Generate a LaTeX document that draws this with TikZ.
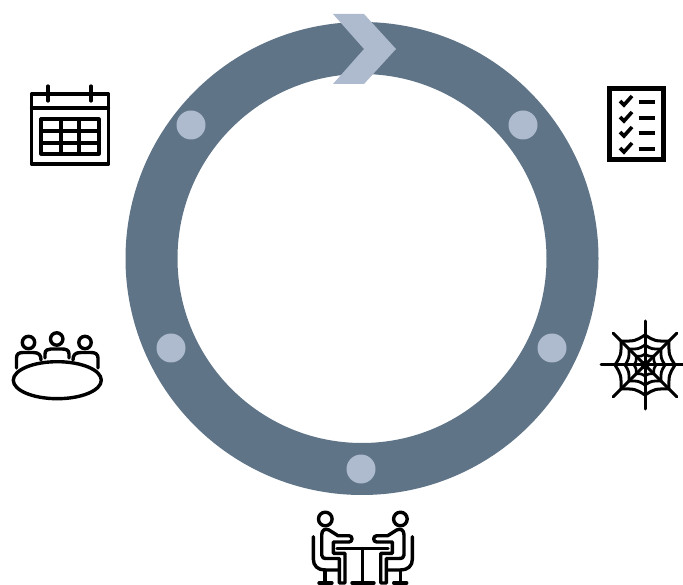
\documentclass[tikz,border=0pt]{standalone}
\definecolor{ringc}{HTML}{5F7487}
\definecolor{chevc}{HTML}{AEBACD}
\tikzset{
 ico/.style={draw=black,line width=3.2pt,line join=round,line cap=round},
 thinico/.style={draw=black,line width=3.4pt,line join=round,line cap=round},
 webl/.style={draw=black,line cap=round,line join=round},
 dotc/.style={fill=chevc,draw=none}
}
\newcommand{\seatedperson}{%
 \draw[thinico] (25.3,14) circle (6.8);
 % chair
 \draw[thinico] (13.3,31.7) -- (13.3,54) .. controls (13.3,61) and (18,65) .. (25,65) -- (39,65);
 \draw[thinico] (25,65) -- (25,78);
 \draw[thinico] (19,78) -- (32,78);
 % body
 \draw[thinico] (21.7,50) -- (21.7,30) .. controls (21.7,25) and (25,23) .. (29,25)
   -- (38,30.7) -- (49,30.7) .. controls (53,30.7) and (53,37) .. (49,37) -- (33.3,37) -- (33.3,48.3) -- (45,48.3)
   -- (45,78) -- (39.3,78) -- (39.3,53.5) -- (26.7,53.5) .. controls (23.5,53.5) and (21.7,52.5) .. (21.7,50) -- cycle;
}
\begin{document}
\begin{tikzpicture}[x=1pt,y=-1pt]
\useasboundingbox (0,0) rectangle (683,585);
% ring
\fill[ringc,even odd rule] (362,258.5) circle (236.5) (362,258.5) circle (184.5);
\fill[chevc] (333,14) -- (364,14) -- (396,49) -- (364,84) -- (333,84) -- (364,49) -- cycle;
\foreach \px/\py in {191/125,523/125,552/348,171/348,361/469}
  \fill[dotc] (\px,\py) circle (14.5);
% calendar
\draw[ico] (31.5,94) rectangle (108.5,164);
\draw[ico] (31.5,108) -- (108.5,108);
\draw[ico] (48,86) -- (48,101);
\draw[ico] (91,86) -- (91,101);
\draw[ico] (41,119) rectangle (99,154);
\draw[ico] (61,119) -- (61,154);
\draw[ico] (79,119) -- (79,154);
\draw[ico] (41,131) -- (99,131);
\draw[ico] (41,143) -- (99,143);
% checklist
\draw[draw=black,line width=5pt,miter limit=10] (609.5,88.5) rectangle (663.5,159.5);
\foreach \cy in {101,117,132,148}{
  \draw[draw=black,line width=3.6pt] (620,\cy) -- (624,\cy+4) -- (632,\cy-5);
  \draw[draw=black,line width=3.4pt] (638.5,\cy+1) -- (655,\cy+1);
}
% web
\begin{scope}[shift={(645,365)}]
\foreach \ang/\rad in {0/38,45/45,90/44,135/45,180/44,225/45,270/44,315/45}
  \draw[webl,line width=3pt] (0,0) -- (\ang:\rad);
\foreach \rr/\lw in {30/3,20/2.8,11/2.6}{
 \foreach \ang in {0,90,180,270}{
  \pgfmathsetmacro{\rd}{\rr*1.13}
  \pgfmathsetmacro{\rc}{\rr*0.86}
  \draw[webl,line width=\lw pt] (\ang:\rr) .. controls (\ang+22.5:\rc) .. (\ang+45:\rd)
     .. controls (\ang+67.5:\rc) .. (\ang+90:\rr);
 }
}
\fill[black] (0,0) circle (4.5);
\end{scope}
% meeting
\draw[thinico] (28.5,342.5) circle (6.2);
\draw[thinico] (56.7,339) circle (6.2);
\draw[thinico] (85,342.5) circle (6.2);
\draw[thinico] (16.5,368) -- (16.5,358) .. controls (16.5,354) and (19,352.5) .. (23,352.5) -- (33,352.5) .. controls (39,352.5) and (41,355) .. (41,360);
\draw[thinico] (45,358) -- (45,354) .. controls (45,350) and (48,349) .. (51,349) -- (62,349) .. controls (66,349) and (69,350) .. (69,354) -- (69,358);
\draw[thinico] (73,360) .. controls (73,355) and (75,352.5) .. (81,352.5) -- (91,352.5) .. controls (95,352.5) and (98,354) .. (98,358) -- (98,368);
\draw[thinico] (57.3,380.2) ellipse (44 and 18.5);
% interview
\draw[thinico] (337,548.5) -- (388,548.5);
\draw[thinico] (362.5,548.5) -- (362.5,583);
\draw[thinico] (352,583) -- (374,583);
\begin{scope}[shift={(300,505)}]
\seatedperson
\end{scope}
\begin{scope}[shift={(425.7,505)},xscale=-1]
\seatedperson
\end{scope}
\end{tikzpicture}
\end{document}
